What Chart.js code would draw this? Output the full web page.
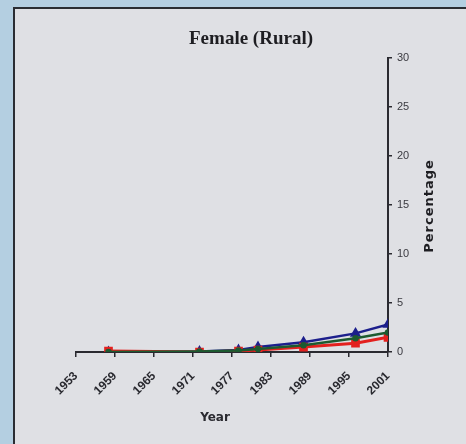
<!DOCTYPE html>
<html>
<head>
<meta charset="utf-8">
<script src="https://cdn.jsdelivr.net/npm/chart.js@4.4.1/dist/chart.umd.min.js"></script>
<style>
  html, body { margin: 0; padding: 0; background: #b4cfe1; }
  #wrap { position: relative; width: 466px; height: 444px; }
</style>
</head>
<body>
<div id="wrap"><canvas id="myChart" width="466" height="444"></canvas></div>
<script>
// data
var years = [1958, 1972, 1978, 1981, 1988, 1996, 2001];
var blueSeries = [0.0, 0.05, 0.2, 0.5, 1.0, 1.9, 2.8];
var greenSeries = [0.0, 0.05, 0.15, 0.3, 0.7, 1.4, 2.0];
var redSeries = [0.1, 0.0, 0.1, 0.2, 0.5, 0.9, 1.5];
var yearTicks = [1953, 1959, 1965, 1971, 1977, 1983, 1989, 1995, 2001];
var chartTitle = "Female (Rural)";
var xTitle = "Year";
var yTitle = "Percentage";

function toPoints(vals) {
    return years.map(function (y, i) { return { x: y, y: vals[i] }; });
}

// background frame + the texts that chart.js can't place the same way
var framePlugin = {
    id: 'frame',
    beforeDraw: function (chart) {
        var ctx = chart.ctx;
        ctx.save();
        ctx.fillStyle = '#b4cfe1';
        ctx.fillRect(0, 0, 466, 444);
        ctx.fillStyle = '#dfe0e4';
        ctx.fillRect(14, 8, 452, 436);
        ctx.strokeStyle = '#2a2d33';
        ctx.lineWidth = 2;
        ctx.beginPath();
        ctx.moveTo(14, 444);
        ctx.lineTo(14, 8);
        ctx.lineTo(466, 8);
        ctx.stroke();
        ctx.restore();
    },
    afterDraw: function (chart) {
        var ctx = chart.ctx;
        ctx.save();
        ctx.fillStyle = '#1e1e22';
        ctx.textAlign = 'center';
        ctx.textBaseline = 'middle';
        ctx.font = 'bold 19px "Liberation Serif"';
        ctx.fillText(chartTitle, 251, 39);
        ctx.font = 'bold 12px "DejaVu Sans"';
        ctx.fillStyle = '#2a2a30';
        ctx.fillText(xTitle, 215, 418);
        ctx.translate(430, 206);
        ctx.rotate(-Math.PI / 2);
        ctx.font = 'bold 13px "DejaVu Sans"';
        ctx.letterSpacing = '1px';
        ctx.fillStyle = '#1e1e22';
        ctx.fillText(yTitle, 0, 0);
        ctx.restore();
    }
};

var ctx = document.getElementById('myChart');
var chart = new Chart(ctx, {
    type: 'line',
    data: {
        datasets: [{
            data: toPoints(greenSeries),
            borderColor: '#1d5a30',
            backgroundColor: '#1d5a30',
            borderWidth: 2.5,
            pointStyle: 'circle',
            pointRadius: 2,
            fill: false
        }, {
            data: toPoints(redSeries),
            borderColor: '#e3201e',
            backgroundColor: '#e3201e',
            borderWidth: 3,
            pointStyle: 'rect',
            pointRadius: 4,
            fill: false
        }, {
            data: toPoints(blueSeries),
            borderColor: '#1c1f8c',
            backgroundColor: '#1c1f8c',
            borderWidth: 2.5,
            pointStyle: 'triangle',
            pointRadius: 4,
            fill: false
        }]
    },
    options: {
        responsive: false,
        animation: false,
        layout: { padding: { left: 76, top: 58, right: 0, bottom: 0 } },
        plugins: {
            legend: { display: false },
            title: { display: false },
            tooltip: { enabled: false }
        },
        scales: {
            x: {
                type: 'linear',
                position: 'bottom',
                min: 1953,
                max: 2001,
                afterBuildTicks: function (scale) {
                    scale.ticks = yearTicks.map(function (v) { return { value: v }; });
                },
                afterFit: function (scale) { scale.height = 92; },
                ticks: {
                    minRotation: 45,
                    maxRotation: 45,
                    autoSkip: false,
                    color: '#2a2a30',
                    font: { family: 'Liberation Sans Narrow, Liberation Sans', size: 12, weight: 'bold' },
                    padding: 12,
                    callback: function (v) { return String(v); }
                },
                grid: { drawOnChartArea: false, drawTicks: true, tickLength: 5, color: '#2a2a30', lineWidth: 1.5 },
                border: { display: true, color: '#2a2a30', width: 2 },
                title: { display: false }
            },
            y: {
                position: 'right',
                min: 0,
                max: 30,
                afterFit: function (scale) { scale.width = 78; },
                ticks: {
                    stepSize: 5,
                    color: '#3a3a40',
                    font: { family: 'Liberation Sans Narrow, Liberation Sans', size: 11 },
                    padding: 5
                },
                grid: { drawOnChartArea: false, drawTicks: true, tickLength: 4, color: '#2a2a30', lineWidth: 1.5 },
                border: { display: true, color: '#2a2a30', width: 2 }
            }
        }
    },
    plugins: [framePlugin]
});
</script>
</body>
</html>
